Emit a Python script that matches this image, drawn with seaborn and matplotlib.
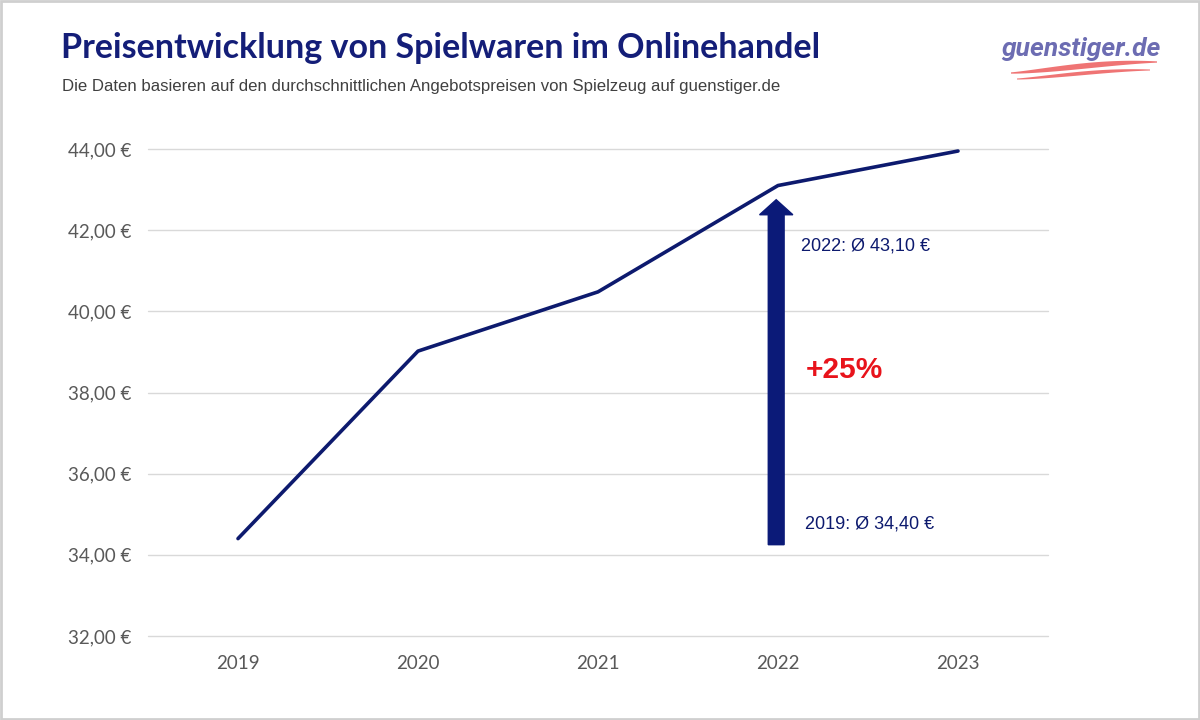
import matplotlib
matplotlib.use("Agg")
import matplotlib.pyplot as plt
import seaborn as sns
import pandas as pd
import numpy as np
from matplotlib.patches import Rectangle, FancyArrow, Polygon
from matplotlib.ticker import FuncFormatter

years = ["2019", "2020", "2021", "2022", "2023"]
prices = [34.40, 39.02, 40.48, 43.10, 43.95]
yticks = [32, 34, 36, 38, 40, 42, 44]

title = "Preisentwicklung von Spielwaren im Onlinehandel"
subtitle = "Die Daten basieren auf den durchschnittlichen Angebotspreisen von Spielzeug auf guenstiger.de"
label_2022 = "2022: Ø 43,10 €"
label_2019 = "2019: Ø 34,40 €"
label_pct = "+25%"

sns.set_theme(style="white")
plt.rcParams['font.family'] = ['Lato', 'DejaVu Sans']

navy = "#0d1a6e"
fig = plt.figure(figsize=(12, 7.2), dpi=100)
fig.patch.set_facecolor("white")
ax = fig.add_axes([148/1200, 1-636/720, 900/1200, (636-149)/720])

df = pd.DataFrame({"year": years, "price": prices})
df["x"] = np.arange(len(years))
sns.lineplot(data=df, x="x", y="price", ax=ax, color=navy, linewidth=2.6)

ax.set_xlim(-0.5, len(years) - 0.5)
ax.set_ylim(32, 44)
ax.set_yticks(yticks)
ax.yaxis.set_major_formatter(FuncFormatter(lambda v, p: f"{v:.2f} €".replace(".", ",")))
ax.set_xticks(range(len(years)))
ax.set_xticklabels(years)
ax.set_xlabel("")
ax.set_ylabel("")
ax.grid(axis="y", color="#d9d9d9", linewidth=1)
for gl in ax.get_ygridlines():
    gl.set_clip_on(False)
ax.set_axisbelow(True)
for s in ax.spines.values():
    s.set_visible(False)
ax.tick_params(axis="both", length=0, labelsize=13.5, labelcolor="#595959")
ax.tick_params(axis="y", pad=12)
ax.tick_params(axis="x", pad=14)

# arrow at 2022 position
xi = years.index("2022")
arr = FancyArrow(xi - 0.01, 34.25, 0, 8.5, width=0.088, head_width=0.185,
                 head_length=0.37, length_includes_head=True,
                 color="#0b1a78", zorder=3)
ax.add_patch(arr)
ax.text(xi + 0.13, 41.62, label_2022, fontsize=13, color=navy,
        family=['Liberation Sans'], va="center", ha="left")
ax.text(xi + 0.15, 34.77, label_2019, fontsize=13, color=navy,
        family=['Liberation Sans'], va="center", ha="left")
ax.text(xi + 0.155, 38.55, label_pct, fontsize=21.5, color="#e8131b",
        fontweight="bold", family=['Liberation Sans'], va="center", ha="left")

# titles
fig.text(61/1200, 1-48/720, title, fontsize=24.5, fontweight="bold", color="#141e78",
         va="center", ha="left", family=['Lato'])
fig.text(62/1200, 1-87/720, subtitle, fontsize=12.1, color="#404040",
         va="center", ha="left", family=['Liberation Sans'])

# logo
fig.text(1081/1200, 1-49/720, "guenstiger.de", fontsize=19, fontweight="bold",
         style="italic", color="#6c6cb2", va="center", ha="center",
         family=['Roboto'])
t = np.linspace(0, 1, 60)
for x0, x1, yb, rise, wmax in [(1011, 1157, 73, 11, 5.0), (1017, 1150, 79, 9, 3.2)]:
    xs = x0 + (x1 - x0) * t
    yc = yb - rise * np.sin(np.pi / 2 * t) ** 1.3
    w = wmax * np.sin(np.pi * np.clip(t * 0.9 + 0.05, 0, 1)) + 0.5
    top = np.column_stack([xs, yc - w / 2])
    bot = np.column_stack([xs[::-1], (yc + w / 2)[::-1]])
    pts = np.vstack([top, bot])
    pts = np.column_stack([pts[:, 0] / 1200, 1 - pts[:, 1] / 720])
    fig.add_artist(Polygon(pts, closed=True, transform=fig.transFigure,
                           facecolor="#ef7474", edgecolor="none"))

# border
fig.add_artist(Rectangle((0.001, 0.001), 0.998, 0.997, transform=fig.transFigure,
                         fill=False, edgecolor="#cfcfcf", linewidth=2))

fig.savefig("out.png", dpi=100)
